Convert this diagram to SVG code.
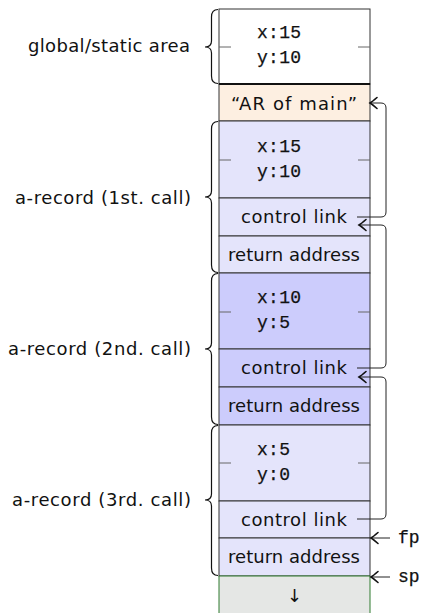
<svg xmlns="http://www.w3.org/2000/svg" width="423" height="613" viewBox="0 0 423 613">
  <defs>
    <marker id="tip" viewBox="-9 -7 11 14" refX="0" refY="0" markerWidth="11" markerHeight="14" markerUnits="userSpaceOnUse" orient="auto">
      <path d="M-7,-5.5 Q-2.2,-1.4 0,0 Q-2.2,1.4 -7,5.5" fill="none" stroke="#111" stroke-width="1.6" stroke-linecap="round"/>
    </marker>
  </defs>
  <style>
    .cell { stroke: #333; stroke-width: 1; }
    .white { fill: #ffffff; }
    .orange { fill: #fdefe1; }
    .lav { fill: #e4e4fb; }
    .lav2 { fill: #ccccfc; }
    .free { fill: #e5e7e5; stroke: #2f7a2f; stroke-width: 1; }
    .tick { stroke: #666; stroke-width: 1; }
    .brace { fill: none; stroke: #111; stroke-width: 1.2; }
    .sans { font-family: "DejaVu Sans", "Liberation Sans", sans-serif; font-size: 18px; fill: #111; }
    .mono { font-family: "Liberation Mono", "DejaVu Sans Mono", monospace; font-size: 18px; fill: #111; stroke: #111; stroke-width: 0.25; }
    .link { fill: none; stroke: #222; stroke-width: 1; }
  </style>

  <!-- global / static area -->
  <g id="global-area">
    <rect class="cell white" x="219" y="9" width="151" height="75"/>
    <line class="tick" x1="219" y1="47" x2="231" y2="47"/>
    <line class="tick" x1="358" y1="47" x2="370" y2="47"/>
    <text class="mono" x="257" y="38" textLength="44">x:15</text>
    <text class="mono" x="257" y="63" textLength="44">y:10</text>
  </g>

  <!-- activation record of main -->
  <g id="ar-main">
    <rect class="cell orange" x="219" y="84" width="151" height="37"/>
    <line x1="219" y1="84" x2="370" y2="84" stroke="#111" stroke-width="2.2"/>
    <text class="sans" x="231" y="110" textLength="126">“AR of main”</text>
  </g>

  <!-- 1st call -->
  <g id="record-1">
    <rect class="cell lav" x="219" y="121" width="151" height="77"/>
    <line class="tick" x1="219" y1="160" x2="231" y2="160"/>
    <line class="tick" x1="358" y1="160" x2="370" y2="160"/>
    <text class="mono" x="257" y="152" textLength="44">x:15</text>
    <text class="mono" x="257" y="177" textLength="44">y:10</text>
    <rect class="cell lav" x="219" y="198" width="151" height="38"/>
    <text class="sans" x="241" y="223" textLength="106">control link</text>
    <rect class="cell lav" x="219" y="236" width="151" height="37"/>
    <text class="sans" x="228" y="261" textLength="132">return address</text>
  </g>

  <!-- 2nd call -->
  <g id="record-2">
    <rect class="cell lav2" x="219" y="273" width="151" height="76"/>
    <line class="tick" x1="219" y1="312" x2="231" y2="312"/>
    <line class="tick" x1="358" y1="312" x2="370" y2="312"/>
    <text class="mono" x="257" y="303" textLength="44">x:10</text>
    <text class="mono" x="257" y="328" textLength="33">y:5</text>
    <rect class="cell lav2" x="219" y="349" width="151" height="38"/>
    <text class="sans" x="241" y="374" textLength="106">control link</text>
    <rect class="cell lav2" x="219" y="387" width="151" height="38"/>
    <text class="sans" x="228" y="412" textLength="132">return address</text>
  </g>

  <!-- 3rd call -->
  <g id="record-3">
    <rect class="cell lav" x="219" y="425" width="151" height="76"/>
    <line class="tick" x1="219" y1="463" x2="231" y2="463"/>
    <line class="tick" x1="358" y1="463" x2="370" y2="463"/>
    <text class="mono" x="257" y="455" textLength="33">x:5</text>
    <text class="mono" x="257" y="480" textLength="33">y:0</text>
    <rect class="cell lav" x="219" y="501" width="151" height="37"/>
    <text class="sans" x="241" y="526" textLength="106">control link</text>
    <rect class="cell lav" x="219" y="538" width="151" height="38"/>
    <text class="sans" x="228" y="563" textLength="132">return address</text>
  </g>

  <!-- free stack space -->
  <g id="free-space">
    <path class="free" d="M219,614 V576 H370 V614"/>
    <text class="sans" x="294.5" y="602" text-anchor="middle" font-size="21">↓</text>
  </g>

  <!-- braces and their labels -->
  <g id="label-global">
    <path class="brace" d="M218,9.5 C213,9.5 211.5,12 211.5,17 V41 C211.5,45 209.5,47 205,47 C209.5,47 211.5,49 211.5,53 V76 C211.5,81 213,83.5 218,83.5"/>
    <text class="sans" x="28" y="52" textLength="162">global/static area</text>
  </g>
  <g id="label-record-1">
    <path class="brace" d="M218,121.5 C213,121.5 211.5,124 211.5,129 V191 C211.5,195 209.5,197 205,197 C209.5,197 211.5,199 211.5,203 V265 C211.5,270 213,272.5 218,272.5"/>
    <text class="sans" x="15" y="204" textLength="176">a-record (1st. call)</text>
  </g>
  <g id="label-record-2">
    <path class="brace" d="M218,273.5 C213,273.5 211.5,276 211.5,281 V343 C211.5,347 209.5,349 205,349 C209.5,349 211.5,351 211.5,355 V417 C211.5,422 213,424.5 218,424.5"/>
    <text class="sans" x="8" y="355" textLength="183">a-record (2nd. call)</text>
  </g>
  <g id="label-record-3">
    <path class="brace" d="M218,425.5 C213,425.5 211.5,428 211.5,433 V494 C211.5,498 209.5,500 205,500 C209.5,500 211.5,502 211.5,506 V568 C211.5,573 213,575.5 218,575.5"/>
    <text class="sans" x="12" y="506" textLength="179">a-record (3rd. call)</text>
  </g>

  <!-- control links and stack pointers -->
  <g id="connectors">
    <path class="link" marker-end="url(#tip)" d="M357,217 H381 Q386,217 386,212 V108 Q386,103 381,103 H370"/>
    <path class="link" marker-end="url(#tip)" d="M357,368 H381 Q386,368 386,363 V230 Q386,225 381,225 H359"/>
    <path class="link" marker-end="url(#tip)" d="M357,519 H381 Q386,519 386,514 V382 Q386,377 381,377 H359"/>
    <path class="link" stroke-width="1.5" marker-end="url(#tip)" d="M390,538 H371"/>
    <path class="link" stroke-width="1.5" marker-end="url(#tip)" d="M390,577 H371"/>
    <text class="mono" x="398" y="543">fp</text>
    <text class="mono" x="398" y="582">sp</text>
  </g>
</svg>
